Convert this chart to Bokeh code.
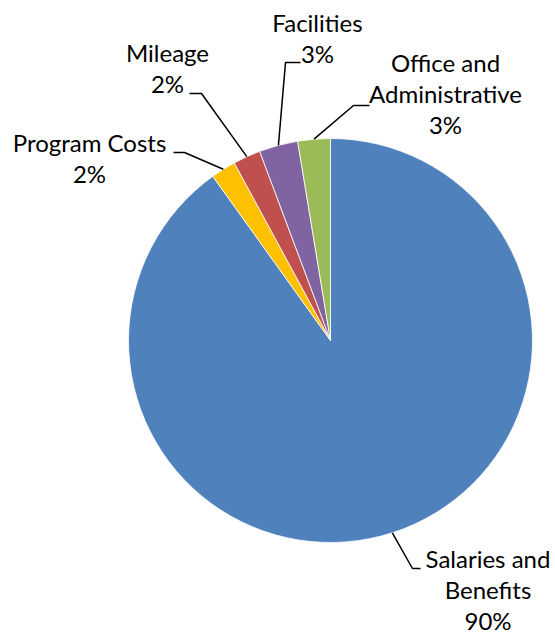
import math
from bokeh.plotting import figure
from bokeh.models import Range1d
from bokeh.core.properties import value
from bokeh.embed import file_html
from bokeh.resources import INLINE

# ---- data ----
categories = ["Salaries and Benefits", "Program Costs", "Mileage",
              "Facilities", "Office and Administrative"]
shares = [90.1, 2.0, 2.2, 3.1, 2.6]
colors = ["#4F81BD", "#FFC000", "#C0504D", "#8064A2", "#9BBB59"]
label_lines = [["Salaries and", "Benefits"], ["Program Costs"], ["Mileage"],
               ["Facilities"], ["Office and", "Administrative"]]

# ---- layout (pixels) ----
W, H = 555, 632
CX, CY, R = 330, 340, 202
LINE_H = 31
TEXT_SHIFT = -10
# text centre x, first baseline y, leader elbow, leader end
layout = [
    (487.5, 568, (412, 568), (420, 568)),
    (89, 152, (184, 152), (173, 152)),
    (167, 62, (201, 93), (189, 93)),
    (317, 32, (285, 62), (300, 62)),
    (445, 72, (353, 105), (369, 105)),
]


def dx(px):
    return px - CX


def dy(py):
    return CY - py


p = figure(width=W, height=H, output_backend="svg", toolbar_location=None,
           x_range=Range1d(-CX, W - CX), y_range=Range1d(CY - H, CY),
           min_border=0)
p.axis.visible = False
p.grid.visible = False
p.outline_line_color = None
p.background_fill_color = "white"
p.border_fill_color = "white"

total = float(sum(shares))
starts, ends, mids = [], [], []
cum = 0.0
for v in shares:
    a0 = math.pi / 2 - 2 * math.pi * cum / total
    cum += v
    a1 = math.pi / 2 - 2 * math.pi * cum / total
    starts.append(a0)
    ends.append(a1)
    mids.append((a0 + a1) / 2)

p.wedge(x=[0] * len(shares), y=[0] * len(shares), radius=R,
        start_angle=starts, end_angle=ends, direction="clock",
        fill_color=colors, line_color="white", line_width=0.8)

# leaders
xs, ys = [], []
for m, (tx, ty, elbow, end) in zip(mids, layout):
    ex, ey = R * math.cos(m), R * math.sin(m)
    xs.append([ex, dx(elbow[0]), dx(end[0])])
    ys.append([ey, dy(elbow[1]), dy(end[1])])
p.multi_line(xs, ys, line_color="black", line_width=1.5)

# labels
tx_l, ty_l, tt_l = [], [], []
for v, lines, (tx, ty, elbow, end) in zip(shares, label_lines, layout):
    allines = lines + [f"{round(100 * v / total)}%"]
    for i, s in enumerate(allines):
        tx_l.append(dx(tx))
        ty_l.append(dy(ty + i * LINE_H + TEXT_SHIFT))
        tt_l.append(s)
p.text(x=tx_l, y=ty_l, text=tt_l, text_font=value("Lato"),
       text_font_size="24px", text_align="center",
       text_baseline="alphabetic", text_color="black")

open("out.html", "w").write(file_html(p, INLINE))
